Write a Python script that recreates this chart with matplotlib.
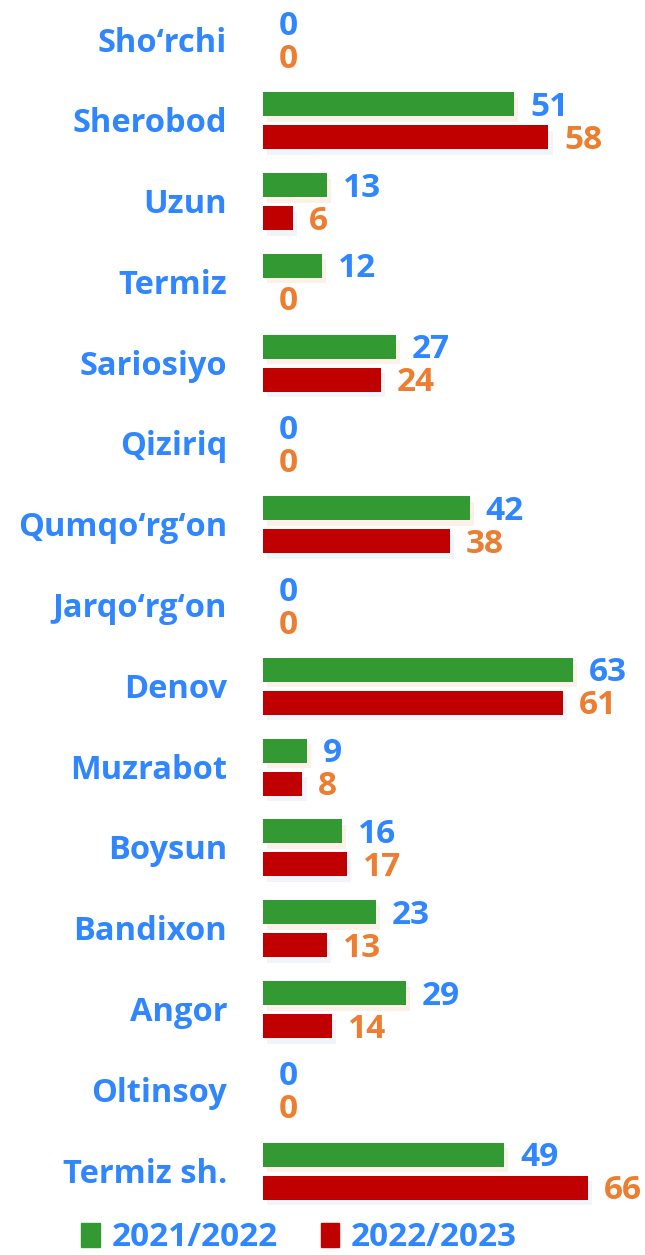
import matplotlib.pyplot as plt
import matplotlib.patheffects as pe
from matplotlib.patches import Patch
import numpy as np

# data
districts = ['Sho‘rchi', 'Sherobod', 'Uzun', 'Termiz', 'Sariosiyo', 'Qiziriq',
             'Qumqo‘rg‘on', 'Jarqo‘rg‘on', 'Denov', 'Muzrabot', 'Boysun',
             'Bandixon', 'Angor', 'Oltinsoy', 'Termiz sh.']
y2021 = [0, 51, 13, 12, 27, 0, 42, 0, 63, 9, 16, 23, 29, 0, 49]
y2022 = [0, 58, 6, 0, 24, 0, 38, 0, 61, 8, 17, 13, 14, 0, 66]
series_labels = ['2021/2022', '2022/2023']

GREEN = '#339933'
RED = '#C00000'
BLUE = '#2F86FF'
ORANGE = '#ED7D31'

plt.rcParams['font.family'] = ['Open Sans', 'DejaVu Sans']

W, H = 645, 1255
fig = plt.figure(figsize=(W / 100, H / 100), dpi=100)

# axes placed in pixel terms: bars start at x=263
x0 = 263
pitch = 80.8
top_center = 40
ax = fig.add_axes([x0 / W, 0, (W - x0) / W, 1])
px_per_unit = 4.92
ax.set_xlim(0, (W - x0) / px_per_unit)
ax.set_ylim((H - top_center) / pitch, -top_center / pitch)
ax.axis('off')

pos = np.arange(len(districts))
bh = 24 / pitch
off = 16.5 / pitch

# soft shadows under the bars
shadow_g = [pe.SimplePatchShadow(offset=(3, -4), shadow_rgbFace='#f5c9a8', alpha=0.25), pe.Normal()]
shadow_r = [pe.SimplePatchShadow(offset=(3, -4), shadow_rgbFace='#c9d6ea', alpha=0.25), pe.Normal()]

bars_g = ax.barh(pos - off, y2021, height=bh, color=GREEN, edgecolor='none')
bars_r = ax.barh(pos + off, y2022, height=bh, color=RED, edgecolor='none')
for b in bars_g:
    b.set_path_effects(shadow_g)
for b in bars_r:
    b.set_path_effects(shadow_r)

fs = 24
for i, (a, b) in enumerate(zip(y2021, y2022)):
    ax.annotate(str(a), (a, i - off), xytext=(16, -3), textcoords='offset pixels',
                ha='left', va='center', fontsize=fs, fontweight='bold', color=BLUE)
    ax.annotate(str(b), (b, i + off), xytext=(16, -3), textcoords='offset pixels',
                ha='left', va='center', fontsize=fs, fontweight='bold', color=ORANGE)
    ax.annotate(districts[i], (0, i), xytext=(-36, -3), textcoords='offset pixels',
                ha='right', va='center', fontsize=fs - 0.5, fontweight='bold', color=BLUE,
                annotation_clip=False)

handles = [Patch(color=GREEN), Patch(color=RED)]
fig.legend(handles, series_labels, loc='center', bbox_to_anchor=(299 / W, 1 - 1238 / H),
           ncol=2, frameon=False, handlelength=0.55, handleheight=0.7, handletextpad=0.35,
           columnspacing=1.3, borderpad=0.1, prop={'size': fs, 'weight': 'bold'},
           labelcolor=BLUE)

fig.savefig('out.png', dpi=100)
